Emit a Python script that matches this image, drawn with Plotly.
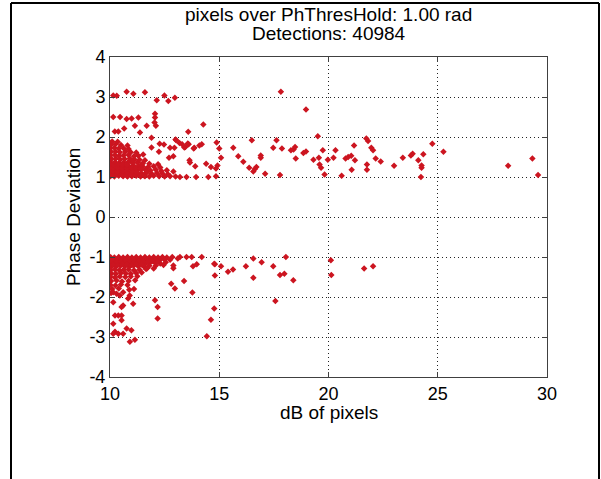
import plotly.graph_objects as go

title_lines = ["pixels over PhThresHold: 1.00 rad", "Detections: 40984"]
x_label = "dB of pixels"
y_label = "Phase Deviation"
x_ticks = [10, 15, 20, 25, 30]
y_ticks = [-4, -3, -2, -1, 0, 1, 2, 3, 4]

# dense cluster, upper band
dense_up_x = [10.02, 10.2, 10.4, 10.6, 10.8, 11.0, 11.2, 11.4, 11.6, 11.8, 12.0, 12.25, 12.5, 12.75, 13.0,
              10.05, 10.25, 10.45, 10.65, 10.85, 11.05, 11.25, 11.45, 11.65, 11.9, 12.15, 12.4, 12.65,
              10.02, 10.22, 10.42, 10.62, 10.82, 11.02, 11.22, 11.42, 11.62, 11.85, 12.1, 12.35, 12.6, 12.9,
              10.08, 10.28, 10.48, 10.68, 10.88, 11.08, 11.3, 11.5, 11.75, 12.0, 12.3,
              10.03, 10.23, 10.43, 10.63, 10.83, 11.03, 11.25, 11.5, 11.8, 12.2,
              10.07, 10.27, 10.47, 10.67, 10.9, 11.12, 11.35, 11.6,
              10.02, 10.22, 10.42, 10.62, 10.85, 11.1, 11.3,
              10.05, 10.25, 10.45, 10.7, 10.95, 11.2,
              10.02, 10.2, 10.4, 10.62, 10.85,
              10.05, 10.25, 10.5, 10.8,
              10.1, 10.35,
              10.12, 10.33, 10.55, 10.76, 10.97, 11.16, 11.38, 11.56, 10.14, 10.36, 10.58, 10.8, 11.0, 11.22,
              10.12, 10.34, 10.56, 10.78, 10.99, 11.18, 11.4, 10.15, 10.36, 10.57, 10.77, 11.0, 11.43, 11.7]
dense_up_y = [1.02, 1.01, 1.03, 1.02, 1.01, 1.02, 1.03, 1.01, 1.02, 1.01, 1.03, 1.02, 1.01, 1.02, 1.01,
              1.10, 1.09, 1.11, 1.10, 1.08, 1.10, 1.11, 1.09, 1.10, 1.08, 1.10, 1.09, 1.07,
              1.18, 1.19, 1.17, 1.18, 1.19, 1.18, 1.17, 1.19, 1.18, 1.16, 1.18, 1.15, 1.17, 1.14,
              1.27, 1.26, 1.28, 1.27, 1.26, 1.28, 1.27, 1.26, 1.25, 1.27, 1.24,
              1.36, 1.37, 1.35, 1.36, 1.37, 1.35, 1.36, 1.34, 1.33, 1.32,
              1.45, 1.46, 1.44, 1.45, 1.46, 1.44, 1.43, 1.42,
              1.54, 1.55, 1.53, 1.54, 1.55, 1.52, 1.53,
              1.63, 1.64, 1.62, 1.63, 1.62, 1.61,
              1.72, 1.73, 1.71, 1.72, 1.70,
              1.81, 1.82, 1.80, 1.79,
              1.89, 1.88,
              1.05, 1.06, 1.05, 1.04, 1.06, 1.05, 1.06, 1.04, 1.14, 1.13, 1.15, 1.13, 1.14, 1.12,
              1.22, 1.23, 1.22, 1.21, 1.23, 1.22, 1.21, 1.31, 1.32, 1.31, 1.30, 1.41, 1.31, 1.13]

# scattered points, upper band
sparse_up_x = [10.15, 10.31, 10.76, 11.07, 11.6, 12.14, 12.49, 12.67, 12.97,
               10.15, 10.46, 10.76, 10.99, 11.3, 12.06, 12.06, 12.04, 11.68, 12.1, 14.27,
               10.22, 10.38, 10.65, 11.14, 11.37, 13.58,
               11.9, 13.0, 12.27, 12.47, 12.75, 13.3, 13.45, 13.6, 13.86, 14.2, 14.88,
               11.52, 11.9, 12.24, 12.9, 12.7, 12.95, 13.64, 13.66, 13.9, 14.4, 14.62,
               13.03, 13.18, 13.56, 13.4, 13.83, 14.09,
               13.2, 13.5, 13.94, 14.5, 14.85, 15.0, 15.08, 14.92, 14.85,
               15.64, 15.87, 16.1, 16.49, 16.37, 16.56, 16.63, 16.7, 16.9, 16.9, 17.1,
               17.47, 17.62, 17.78, 17.87, 18.28, 18.4, 18.47, 18.5, 18.85, 18.97,
               19.31, 19.51, 19.56, 19.59, 19.66, 19.74, 19.82, 19.97,
               17.82, 18.97,
               20.23, 20.32, 20.6, 20.78, 20.9, 21.04, 21.06, 21.17, 21.21,
               21.73, 21.81, 21.96, 22.04, 21.76, 21.76, 22.16, 22.39, 23.0, 23.4,
               23.77, 23.85, 24.11, 24.26, 24.26, 24.23, 24.34, 24.75, 25.26,
               28.22, 29.33, 29.59]
sparse_up_y = [3.04, 3.03, 3.13, 3.08, 3.12, 2.92, 3.04, 2.90, 2.98,
               2.50, 2.50, 2.45, 2.46, 2.49, 2.58, 2.49, 2.36, 2.28, 2.28, 2.31,
               2.14, 2.14, 2.21, 2.28, 2.11, 2.13,
               1.98, 1.94, 1.83, 1.81, 1.73, 1.82, 1.75, 1.82, 1.73, 1.82, 1.86,
               1.56, 1.74, 1.63, 1.52, 1.48, 1.73, 1.42, 1.36, 1.27, 1.33, 1.25,
               1.92, 1.85, 1.84, 1.74, 1.71, 1.79,
               1.00, 1.00, 1.00, 1.00, 1.02, 1.71, 1.48, 1.29, 1.21,
               1.73, 1.52, 1.38, 1.92, 1.23, 1.14, 1.20, 1.25, 1.54, 1.48, 1.08,
               1.73, 1.92, 1.05, 1.71, 1.67, 1.69, 1.75, 1.46, 1.60, 1.64,
               1.43, 2.02, 1.48, 1.31, 1.23, 1.67, 1.06, 1.43,
               3.13, 2.69,
               1.48, 1.67, 1.03, 1.46, 1.50, 1.53, 1.18, 1.79, 1.42,
               1.96, 1.90, 1.73, 1.67, 1.31, 1.18, 1.46, 1.39, 1.28, 1.48,
               1.54, 1.58, 1.42, 1.29, 1.23, 1.00, 1.57, 1.83, 1.63,
               1.28, 1.46, 1.05]

# dense cluster, lower band
dense_lo_x = [10.02, 10.2, 10.4, 10.6, 10.8, 11.0, 11.2, 11.4, 11.6, 11.8, 12.0, 12.2, 12.4, 12.6, 12.85,
              10.1, 10.3, 10.5, 10.7, 10.9, 11.1, 11.3, 11.5, 11.7, 11.9, 12.1, 12.3, 12.5, 12.75,
              10.02, 10.22, 10.42, 10.62, 10.82, 11.02, 11.22, 11.42, 11.62, 11.82, 12.05, 12.3, 12.55,
              10.08, 10.28, 10.48, 10.68, 10.88, 11.08, 11.3, 11.55, 11.8, 12.1, 12.45,
              10.03, 10.23, 10.43, 10.63, 10.85, 11.1, 11.35, 11.65, 12.0,
              10.07, 10.27, 10.5, 10.72, 10.95, 11.2, 11.45,
              10.02, 10.22, 10.45, 10.7, 10.95, 11.25,
              10.05, 10.3, 10.55, 10.85, 11.15,
              10.02, 10.25, 10.5, 10.8,
              10.1, 10.4,
              10.05,
              10.12, 10.32, 10.52, 10.72, 10.92, 11.12, 11.32, 11.52, 11.72, 11.95, 12.2,
              10.14, 10.35, 10.56, 10.77, 10.98, 11.2, 11.45, 11.7]
dense_lo_y = [-1.00, -1.01, -1.00, -1.01, -1.00, -1.01, -1.00, -1.01, -1.00, -1.01, -1.00, -1.01, -1.00, -1.01, -1.00,
              -1.07, -1.08, -1.07, -1.06, -1.08, -1.07, -1.06, -1.08, -1.07, -1.06, -1.08, -1.07, -1.06, -1.07,
              -1.15, -1.14, -1.16, -1.15, -1.14, -1.16, -1.15, -1.14, -1.16, -1.15, -1.14, -1.16, -1.13,
              -1.23, -1.24, -1.22, -1.23, -1.24, -1.22, -1.23, -1.24, -1.22, -1.21, -1.20,
              -1.32, -1.31, -1.33, -1.32, -1.31, -1.33, -1.32, -1.30, -1.29,
              -1.41, -1.42, -1.40, -1.41, -1.42, -1.40, -1.39,
              -1.50, -1.51, -1.49, -1.50, -1.49, -1.48,
              -1.60, -1.59, -1.61, -1.60, -1.58,
              -1.70, -1.71, -1.69, -1.70,
              -1.80, -1.79,
              -1.90,
              -1.11, -1.11, -1.12, -1.10, -1.11, -1.12, -1.10, -1.11, -1.12, -1.10, -1.11,
              -1.19, -1.20, -1.18, -1.19, -1.20, -1.18, -1.19, -1.28]

# scattered points, lower band
sparse_lo_x = [13.2, 13.5, 13.74, 14.2, 13.1, 12.9, 12.9, 13.8, 13.97, 13.39, 12.97, 12.8, 13.77,
               14.8, 15.08, 14.8, 14.77, 14.77, 14.62, 14.43, 12.06, 12.18, 12.18,
               10.15, 10.3, 10.6, 10.45, 10.9, 10.15, 10.6, 10.53, 10.83, 11.06, 10.23, 10.38, 10.53,
               10.15, 10.53, 10.23, 10.38, 10.15, 10.76, 10.6, 10.98, 10.91, 11.14, 10.88, 11.1,
               15.4, 15.63, 16.22, 16.56, 16.56, 16.94, 17.47, 17.78, 17.98, 18.05, 18.39, 17.57,
               20.11, 20.13, 21.63, 22.04]
sparse_lo_y = [-1.00, -1.00, -1.00, -1.00, -1.04, -1.21, -1.28, -1.23, -1.18, -1.60, -1.79, -1.67, -1.89,
               -1.18, -1.23, -1.46, -1.17, -2.29, -2.57, -2.98, -2.08, -2.25, -2.54,
               -1.88, -1.92, -1.88, -1.96, -1.96, -2.13, -2.21, -2.25, -2.04, -2.17, -2.46, -2.46, -2.46,
               -2.67, -2.58, -2.87, -2.92, -2.92, -2.79, -2.92, -2.83, -3.12, -3.07, -1.82, -1.80,
               -1.37, -1.31, -1.23, -1.04, -1.52, -1.13, -1.23, -1.45, -1.42, -1.00, -1.58, -2.10,
               -1.08, -1.45, -1.29, -1.23]

FONT = "Liberation Sans, Arial"
marker = dict(symbol="diamond", size=5, color="#cc1520", line=dict(width=0))

fig = go.Figure()
for xs, ys in [(dense_up_x, dense_up_y), (sparse_up_x, sparse_up_y),
               (dense_lo_x, dense_lo_y), (sparse_lo_x, sparse_lo_y)]:
    fig.add_trace(go.Scatter(x=xs, y=ys, mode="markers", marker=marker,
                             showlegend=False, hoverinfo="skip"))

axis_common = dict(
    showgrid=True, gridcolor="#222222", gridwidth=1, griddash="1px,3px",
    zeroline=False, showline=True, linecolor="#404040", linewidth=1,
    mirror="ticks", ticks="inside", ticklen=5, tickcolor="#404040",
    tickfont=dict(family=FONT, size=18, color="black"),
)

fig.update_xaxes(range=[10, 30], tickvals=x_ticks, ticktext=[str(v) for v in x_ticks], **axis_common)
fig.update_yaxes(range=[-4, 4], tickvals=y_ticks, ticktext=[str(v) for v in y_ticks], **axis_common)

L, R, T, B = 110, 54, 57, 102
W, H = 601, 479
pw, ph = W - L - R, H - T - B
def px(xp):
    return (xp - L) / pw
def py(yp):
    return (H - B - yp) / ph

# figure frame lines
frame = [
    (px(11), py(3), px(11), py(482)),
    (px(11), py(3), px(599), py(3)),
    (px(599), py(3), px(599), py(482)),
]
for x0, y0, x1, y1 in frame:
    fig.add_shape(type="line", xref="paper", yref="paper", x0=x0, y0=y0, x1=x1, y1=y1,
                  line=dict(color="black", width=2))

# titles as text annotations
fig.add_annotation(text=title_lines[0], xref="paper", yref="paper", x=0.5, y=py(14),
                   xanchor="center", yanchor="middle", showarrow=False,
                   font=dict(family=FONT, size=19, color="black"))
fig.add_annotation(text=title_lines[1], xref="paper", yref="paper", x=0.5, y=py(33),
                   xanchor="center", yanchor="middle", showarrow=False,
                   font=dict(family=FONT, size=19, color="black"))
fig.add_annotation(text=x_label, xref="paper", yref="paper", x=0.5, y=py(412),
                   xanchor="center", yanchor="middle", showarrow=False,
                   font=dict(family=FONT, size=19, color="black"))
fig.add_annotation(text=y_label, xref="paper", yref="paper", x=px(73), y=0.5, textangle=-90,
                   xanchor="center", yanchor="middle", showarrow=False,
                   font=dict(family=FONT, size=19, color="black"))

fig.update_layout(
    width=W, height=H,
    margin=dict(l=L, r=R, t=T, b=B, autoexpand=False),
    paper_bgcolor="white", plot_bgcolor="white",
)

fig.write_html("out.html")
